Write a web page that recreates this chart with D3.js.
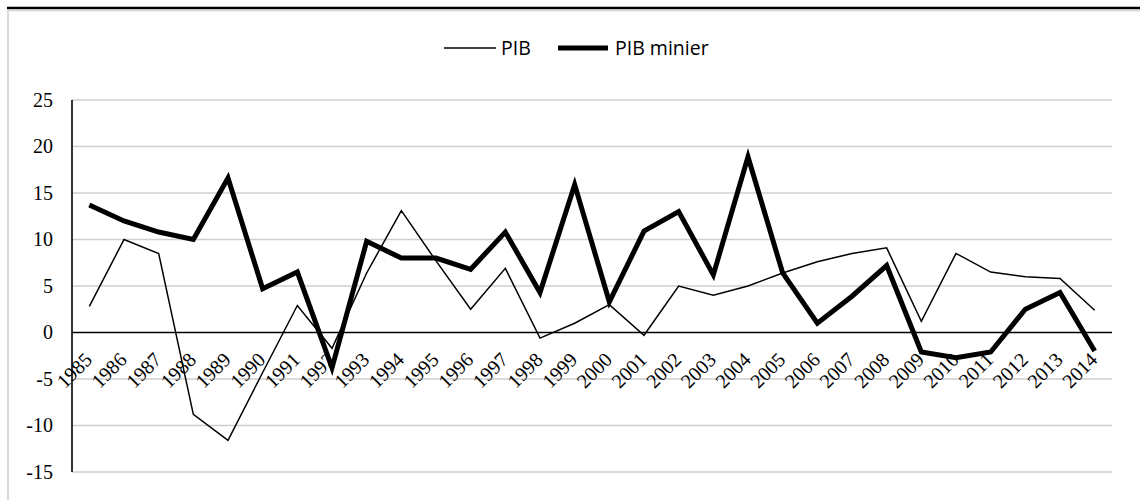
<!DOCTYPE html>
<html>
<head>
<meta charset="utf-8">
<script src="https://cdn.jsdelivr.net/npm/d3@7"></script>
<style>
  html, body { margin: 0; padding: 0; background: #fff; }
  svg { display: block; }
</style>
</head>
<body>
<svg id="chart" width="1140" height="500"></svg>
<script>
// Years on the x axis
const years = [1985, 1986, 1987, 1988, 1989, 1990, 1991, 1992, 1993, 1994,
               1995, 1996, 1997, 1998, 1999, 2000, 2001, 2002, 2003, 2004,
               2005, 2006, 2007, 2008, 2009, 2010, 2011, 2012, 2013, 2014];

// Annual growth of GDP (%)
const pib = [2.8, 10.0, 8.5, -8.8, -11.6, -4.3, 2.9, -1.7, 6.4, 13.1,
             7.7, 2.5, 6.9, -0.6, 1.0, 3.0, -0.3, 5.0, 4.0, 5.0,
             6.4, 7.6, 8.5, 9.1, 1.2, 8.5, 6.5, 6.0, 5.8, 2.4];

// Annual growth of mining GDP (%)
const pibMinier = [13.7, 12.0, 10.8, 10.0, 16.6, 4.7, 6.5, -3.8, 9.8, 8.0,
                   8.0, 6.8, 10.8, 4.3, 15.9, 3.3, 10.9, 13.0, 6.2, 18.9,
                   6.4, 1.0, 3.9, 7.2, -2.1, -2.7, -2.1, 2.5, 4.3, -2.0];

// Y axis ticks
const yTicks = [-15, -10, -5, 0, 5, 10, 15, 20, 25];

const SERIF = "'Liberation Serif', 'Times New Roman', 'DejaVu Serif', serif";
const SANS = "'Open Sans', 'Noto Sans', sans-serif";

const svg = d3.select("#chart");

const plot = { left: 72, right: 1112, top: 100, bottom: 472 };

const x = d3.scaleBand()
  .domain(years)
  .range([plot.left, plot.right]);

const y = d3.scaleLinear()
  .domain([-15, 25])
  .range([plot.bottom, plot.top]);

const cx = d => x(d) + x.bandwidth() / 2;

// Chart frame
svg.append("line")
  .attr("x1", 7).attr("x2", 1140).attr("y1", 8).attr("y2", 8)
  .attr("stroke", "#000").attr("stroke-width", 2.5);
svg.append("line")
  .attr("x1", 8).attr("x2", 1140).attr("y1", 10.5).attr("y2", 10.5)
  .attr("stroke", "#d4d4d4").attr("stroke-width", 1.5);
svg.append("line")
  .attr("x1", 8).attr("x2", 8).attr("y1", 10).attr("y2", 500)
  .attr("stroke", "#d9d9d9").attr("stroke-width", 2);

// Horizontal gridlines
svg.append("g")
  .selectAll("line")
  .data(yTicks.filter(t => t !== 0))
  .join("line")
  .attr("x1", plot.left).attr("x2", plot.right)
  .attr("y1", d => y(d)).attr("y2", d => y(d))
  .attr("stroke", "#cfcfcf").attr("stroke-width", 1.3);

// Y axis labels (plain hyphen for negatives)
const yAxis = d3.axisLeft(y).tickValues(yTicks).tickSize(0).tickPadding(19)
  .tickFormat(d => String(d));
const gy = svg.append("g")
  .attr("transform", `translate(${plot.left},0)`)
  .call(yAxis)
  .attr("font-family", SERIF)
  .attr("font-size", 20);
gy.select(".domain").remove();
gy.selectAll("text")
  .style("font-family", SERIF)
  .style("font-size", "20px")
  .attr("fill", "#000");

// Vertical axis line
svg.append("line")
  .attr("x1", plot.left).attr("x2", plot.left)
  .attr("y1", plot.top).attr("y2", plot.bottom)
  .attr("stroke", "#000").attr("stroke-width", 1.6);

// Zero line
svg.append("line")
  .attr("x1", plot.left).attr("x2", plot.right)
  .attr("y1", y(0)).attr("y2", y(0))
  .attr("stroke", "#000").attr("stroke-width", 1.6);

// Year labels, rotated
svg.append("g")
  .selectAll("text")
  .data(years)
  .join("text")
  .attr("transform", d => `translate(${cx(d) + 4},${y(0) + 28.5}) rotate(-45)`)
  .attr("text-anchor", "end")
  .style("font-family", SERIF)
  .style("font-size", "20px")
  .attr("fill", "#000")
  .text(d => d);

const line = d3.line().x((d, i) => cx(years[i])).y(d => y(d));

svg.append("path")
  .datum(pib)
  .attr("d", line)
  .attr("fill", "none")
  .attr("stroke", "#000")
  .attr("stroke-width", 1.5)
  .attr("stroke-linejoin", "miter");

svg.append("path")
  .datum(pibMinier)
  .attr("d", line)
  .attr("fill", "none")
  .attr("stroke", "#000")
  .attr("stroke-width", 5)
  .attr("stroke-linejoin", "miter");

// Legend
const legend = svg.append("g").attr("fill", "#000");
legend.append("line")
  .attr("x1", 444).attr("x2", 496).attr("y1", 48).attr("y2", 48)
  .attr("stroke", "#000").attr("stroke-width", 1.5);
legend.append("text").attr("x", 501).attr("y", 55)
  .style("font-family", SANS).style("font-size", "19.5px").text("PIB");
legend.append("line")
  .attr("x1", 558).attr("x2", 608).attr("y1", 48).attr("y2", 48)
  .attr("stroke", "#000").attr("stroke-width", 5);
legend.append("text").attr("x", 615).attr("y", 55)
  .style("font-family", SANS).style("font-size", "19.5px").text("PIB minier");
</script>
</body>
</html>
